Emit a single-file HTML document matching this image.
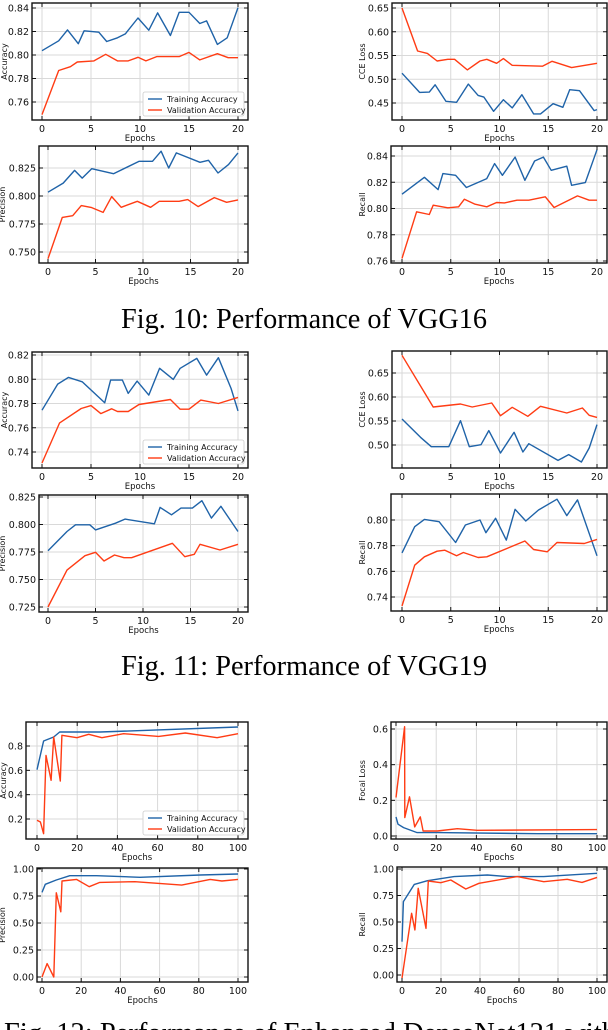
<!DOCTYPE html>
<html><head><meta charset="utf-8">
<style>
html,body{margin:0;padding:0;background:#fff;width:608px;height:1030px;overflow:hidden}
svg{display:block}
</style></head>
<body>
<svg id="fig" width="608" height="1030" viewBox="0 0 608 1030" xmlns="http://www.w3.org/2000/svg">
<text x="121" y="328" font-family="Liberation Serif, serif" font-size="28" textLength="366" lengthAdjust="spacingAndGlyphs">Fig. 10: Performance of VGG16</text>
<text x="121" y="675" font-family="Liberation Serif, serif" font-size="28" textLength="366" lengthAdjust="spacingAndGlyphs">Fig. 11: Performance of VGG19</text>
<text x="4" y="1042" font-family="Liberation Serif, serif" font-size="28" textLength="612" lengthAdjust="spacingAndGlyphs">Fig. 12: Performance of Enhanced DenseNet121 with</text>
</svg>
<script>
// ---- VGG16 ----
const v16AccTrX=[0,1.7,2.6,3.7,4.3,5.8,6.6,7.7,8.5,9.8,10.9,11.8,13.1,14.0,15.0,16.1,16.8,17.9,18.9,20];
const v16AccTrY=[0.8037,0.8121,0.8214,0.8096,0.8206,0.8194,0.8115,0.8146,0.818,0.8315,0.8211,0.8358,0.8166,0.8363,0.8363,0.8268,0.829,0.809,0.8146,0.8403];
const v16AccVaX=[0,1.7,2.9,3.6,5.3,6.5,7.7,8.8,9.8,10.6,11.7,14.0,15.0,16.1,17.9,19.0,20];
const v16AccVaY=[0.7493,0.7868,0.790,0.794,0.795,0.8006,0.795,0.795,0.798,0.795,0.7986,0.7986,0.8022,0.7958,0.8011,0.7977,0.7977];
const v16PrTrX=[0,1.6,2.8,3.6,4.6,6.9,9.6,11.0,11.9,12.7,13.5,16.0,16.9,17.9,19.0,20];
const v16PrTrY=[0.8034,0.8115,0.8229,0.816,0.8244,0.8199,0.831,0.831,0.84,0.825,0.8385,0.8301,0.8319,0.8205,0.828,0.8385];
const v16PrVaX=[0,1.5,2.6,3.5,4.6,5.8,6.7,7.7,9.4,10.8,11.7,13.8,14.7,15.8,17.5,18.8,20];
const v16PrVaY=[0.744,0.7809,0.7824,0.7914,0.7896,0.7854,0.7995,0.7899,0.7953,0.7899,0.7953,0.7953,0.7968,0.7905,0.7986,0.7944,0.7965];
const v16LoTrX=[0,1.8,2.8,3.4,4.5,5.6,6.8,7.8,8.4,9.4,10.4,11.3,12.3,13.5,14.2,15.5,16.5,17.2,18.2,19.7,20];
const v16LoTrY=[0.5127,0.4723,0.473,0.4883,0.4535,0.4514,0.4897,0.466,0.4625,0.4326,0.457,0.4396,0.4674,0.427,0.427,0.4486,0.4409,0.4779,0.4758,0.434,0.4361];
const v16LoVaX=[0,1.6,2.6,3.6,4.7,5.4,6.7,8.0,8.7,9.7,10.4,11.3,14.4,15.4,17.4,20];
const v16LoVaY=[0.65,0.5594,0.5545,0.5385,0.542,0.542,0.5197,0.5385,0.542,0.5336,0.5434,0.5294,0.5274,0.5378,0.5246,0.5336];
const v16ReTrX=[0,2.3,3.7,4.2,5.5,6.6,8.7,9.5,10.3,11.6,12.6,13.6,14.5,15.3,16.9,17.4,18.8,20];
const v16ReTrY=[0.8109,0.8238,0.8144,0.8266,0.8253,0.816,0.8228,0.8342,0.8253,0.8392,0.8215,0.8362,0.8392,0.8291,0.8322,0.8177,0.8197,0.8448];
const v16ReVaX=[0,1.5,2.8,3.2,4.7,5.8,6.4,7.5,8.7,9.7,10.5,11.8,13.0,14.7,15.6,18.0,19.2,20];
const v16ReVaY=[0.762,0.7975,0.7954,0.8025,0.8005,0.8013,0.8071,0.8033,0.8013,0.8046,0.8043,0.8063,0.8063,0.8089,0.8008,0.8096,0.8063,0.8063];
// ---- VGG19 ----
const v19AccTrX=[0,1.6,2.7,4.1,6.4,7.0,8.2,8.8,9.7,10.9,12.0,13.4,14.1,15.8,16.8,18.0,19.3,20];
const v19AccTrY=[0.7745,0.796,0.8015,0.7979,0.7806,0.7993,0.7993,0.7883,0.7985,0.7869,0.809,0.7999,0.809,0.8172,0.8034,0.8178,0.7924,0.7739];
const v19AccVaX=[0,1.8,4.0,5.0,6.0,7.1,7.7,8.8,9.9,13.1,14.1,15.0,16.2,18.0,20];
const v19AccVaY=[0.7309,0.764,0.7759,0.7783,0.7717,0.7756,0.7734,0.7734,0.7792,0.7833,0.7753,0.7753,0.7828,0.78,0.785];
const v19PrTrX=[0,2.0,2.9,4.4,5.0,7.1,8.1,11.2,11.8,13.0,14.0,15.2,16.2,17.2,18.2,20];
const v19PrTrY=[0.7762,0.7936,0.7997,0.7997,0.7951,0.8012,0.8049,0.8006,0.8155,0.8088,0.8149,0.8149,0.8216,0.8058,0.8165,0.7936];
const v19PrVaX=[0,2.0,3.9,5.0,5.9,7.0,8.0,8.8,13.1,14.4,15.4,16.0,18.1,20];
const v19PrVaY=[0.725,0.7585,0.7716,0.7747,0.7668,0.7723,0.7698,0.7698,0.7829,0.7707,0.7729,0.782,0.7768,0.782];
const v19LoTrX=[0,1.9,3.0,4.8,6.0,6.9,8.1,8.9,10.1,11.5,12.4,13.0,16.0,17.1,18.4,19.2,20];
const v19LoTrY=[0.5542,0.516,0.4965,0.4965,0.5507,0.4965,0.5007,0.5299,0.4833,0.5264,0.4854,0.5028,0.468,0.4799,0.4646,0.4938,0.5424];
const v19LoVaX=[0,3.2,6.0,7.2,9.2,10.1,11.3,12.9,14.2,16.9,18.5,19.2,20];
const v19LoVaY=[0.6868,0.5792,0.5854,0.5792,0.5875,0.5611,0.5785,0.5597,0.5806,0.5667,0.5771,0.5618,0.5576];
const v19ReTrX=[0,1.3,2.3,3.8,5.5,6.5,8.0,8.6,9.6,10.7,11.6,12.7,14.0,15.9,16.9,18.0,20];
const v19ReTrY=[0.7744,0.7948,0.8005,0.7987,0.7825,0.7961,0.80,0.7901,0.8013,0.7843,0.8083,0.7992,0.8078,0.8162,0.8034,0.8157,0.7721];
const v19ReVaX=[0,1.3,2.3,3.6,4.4,5.6,6.3,7.8,8.7,12.6,13.5,14.9,15.9,18.7,20];
const v19ReVaY=[0.733,0.7648,0.7713,0.7757,0.7765,0.7721,0.7747,0.7708,0.7713,0.7836,0.777,0.7752,0.7825,0.7817,0.7849];
// ---- DenseNet121 ----
const dnAccTrX=[0,3.3,8.3,11.3,31.5,100];
const dnAccTrY=[0.605,0.841,0.874,0.915,0.915,0.956];
const dnAccVaX=[0,1.7,3.3,4.5,7.0,8.3,11.6,12.4,19.9,25.7,32.3,43.1,60.5,73.8,89.6,100];
const dnAccVaY=[0.189,0.175,0.079,0.723,0.518,0.874,0.512,0.888,0.868,0.896,0.868,0.901,0.879,0.907,0.868,0.901];
const dnPrTrX=[0,1.7,7.3,14.2,27.8,50,80.7,100];
const dnPrTrY=[0.783,0.858,0.898,0.938,0.938,0.923,0.944,0.954];
const dnPrVaX=[0,2.6,6.0,7.3,9.6,10.2,17.6,24.1,29.5,47.4,71.3,85.8,91.8,100];
const dnPrVaY=[0,0.124,0,0.78,0.604,0.889,0.904,0.836,0.876,0.882,0.851,0.904,0.889,0.904];
const dnLoTrX=[0,1,3.8,10.5,20.5,70.4,100];
const dnLoTrY=[0.107,0.066,0.047,0.019,0.019,0.013,0.013];
const dnLoVaX=[0,4.3,4.4,6.7,9.3,12.1,13.5,20.5,30.5,40.4,100];
const dnLoVaY=[0.216,0.613,0.103,0.22,0.051,0.107,0.028,0.028,0.041,0.032,0.036];
const dnReTrX=[0,0.7,6.3,13.1,26.7,43.8,54.0,72.7,100];
const dnReTrY=[0.314,0.692,0.855,0.89,0.928,0.943,0.928,0.928,0.959];
const dnReVaX=[0,4.9,6.6,8.3,12.3,13.5,19.9,25.0,32.7,39.5,59.1,72.7,84.7,92.3,100];
const dnReVaY=[-0.03,0.582,0.425,0.818,0.44,0.887,0.871,0.896,0.811,0.865,0.928,0.88,0.903,0.874,0.921];
// tick labels
const xTicks20=[0,5,10,15,20];
const xTicks100=[0,20,40,60,80,100];
const yTicksV16Acc=[0.76,0.78,0.80,0.82,0.84];
const yTicksV16Pr=[0.750,0.775,0.800,0.825];
const yTicksV16Lo=[0.45,0.50,0.55,0.60,0.65];
const yTicksV16Re=[0.76,0.78,0.80,0.82,0.84];
const yTicksV19Acc=[0.74,0.76,0.78,0.80,0.82];
const yTicksV19Pr=[0.725,0.750,0.775,0.800,0.825];
const yTicksV19Lo=[0.50,0.55,0.60,0.65];
const yTicksV19Re=[0.74,0.76,0.78,0.80];
const yTicksDnAcc=[0.2,0.4,0.6,0.8];
const yTicksDnPr=[0.00,0.25,0.50,0.75,1.00];
const yTicksDnLo=[0.0,0.2,0.4,0.6];
const yTicksDnRe=[0.00,0.25,0.50,0.75,1.00];

const NS='http://www.w3.org/2000/svg';
const svg=document.getElementById('fig');
const BLUE='#1f63a8', RED='#ff3c14';
const TF=9.5;
function mk(tag,attrs,parent){const e=document.createElementNS(NS,tag);for(const k in attrs)e.setAttribute(k,attrs[k]);(parent||svg).appendChild(e);return e;}

function plot(c){
  const g=mk('g',{});
  
  
  const sx=v=>c.px0+(v-c.xv0)*(c.px1-c.px0)/(c.xv1-c.xv0);
  const sy=v=>c.py0+(v-c.yv0)*(c.py1-c.py0)/(c.yv1-c.yv0);
  c.xt.forEach(t=>{const l=mk('line',{x1:sx(t),x2:sx(t),y1:c.top,y2:c.bot,stroke:'#d9d9d9','stroke-width':1},g);
    });
  c.yt.forEach(t=>{const l=mk('line',{x1:c.left,x2:c.right,y1:sy(t),y2:sy(t),stroke:'#d9d9d9','stroke-width':1},g);
    });
  c.series.forEach(s=>{
    const pts=s.x.map((v,i)=>sx(v).toFixed(1)+','+sy(s.y[i]).toFixed(1)).join(' ');
    const p=mk('polyline',{points:pts,fill:'none',stroke:s.color,'stroke-width':1.4,'stroke-linejoin':'round'},g);
    
    
  });
  const fr=mk('rect',{x:c.left,y:c.top,width:c.right-c.left,height:c.bot-c.top,fill:'none',stroke:'#111','stroke-width':1.4},g);
  
  c.xt.forEach(t=>{const x=sx(t);
    mk('line',{x1:x,x2:x,y1:c.bot,y2:c.bot-4,stroke:'#111','stroke-width':1},g);
    mk('line',{x1:x,x2:x,y1:c.top,y2:c.top+4,stroke:'#111','stroke-width':1},g);
    const tx=mk('text',{x:x,y:c.bot+12,'text-anchor':'middle','font-size':TF,'font-family':'DejaVu Sans, sans-serif',fill:'#111'},g);
    tx.textContent=t;
    });
  c.yt.forEach(t=>{const y=sy(t);
    mk('line',{x1:c.left,x2:c.left+4,y1:y,y2:y,stroke:'#111','stroke-width':1},g);
    mk('line',{x1:c.right,x2:c.right-4,y1:y,y2:y,stroke:'#111','stroke-width':1},g);
    const tx=mk('text',{x:c.left-3,y:y+3.5,'text-anchor':'end','font-size':TF,'font-family':'DejaVu Sans, sans-serif',fill:'#111'},g);
    tx.textContent=t.toFixed(c.dec);
    });
  const xl=mk('text',{x:(c.left+c.right)/2,y:c.bot+21,'text-anchor':'middle','font-size':8.5,'font-family':'DejaVu Sans, sans-serif',fill:'#111'},g);
  xl.textContent='Epochs';
  
  const yl=mk('text',{x:0,y:0,'text-anchor':'middle','font-size':8,'font-family':'DejaVu Sans, sans-serif',fill:'#111',transform:`translate(${c.ylx},${(c.top+c.bot)/2}) rotate(-90)`},g);
  yl.textContent=c.ylabel;
  
  if(c.legend){
    const lx=c.right-105, ly=c.bot-28;
    const lg=mk('g',{},g);
    
    mk('rect',{x:lx,y:ly,width:101,height:24,fill:'#fff',stroke:'#ccc','stroke-width':0.8,rx:2},lg);
    [['Training Accuracy',BLUE],['Validation Accuracy',RED]].forEach((e,i)=>{
      const yy=ly+7+i*11;
      mk('line',{x1:lx+5,x2:lx+19,y1:yy,y2:yy,stroke:e[1],'stroke-width':1.4},lg);
      const t=mk('text',{x:lx+24,y:yy+3,'font-size':8,'font-family':'DejaVu Sans, sans-serif',fill:'#111'},lg);
      t.textContent=e[0];
      
    });
  }
}

function ser(x,y,color,name){return {x,y,color,name};}

plot({name:'vgg16-accuracy-chart',left:32,right:248,top:3,bot:120,px0:42,px1:238,xv0:0,xv1:20,py0:8,py1:102,yv0:0.84,yv1:0.76,xt:xTicks20,yt:yTicksV16Acc,dec:2,ylabel:'Accuracy',ylx:7,legend:true,
 series:[ser(v16AccTrX,v16AccTrY,BLUE,'training-accuracy-line'),ser(v16AccVaX,v16AccVaY,RED,'validation-accuracy-line')]});
plot({name:'vgg16-precision-chart',left:39,right:248,top:146,bot:263,px0:48,px1:238,xv0:0,xv1:20,py0:168,py1:252,yv0:0.825,yv1:0.750,xt:xTicks20,yt:yTicksV16Pr,dec:3,ylabel:'Precision',ylx:5,
 series:[ser(v16PrTrX,v16PrTrY,BLUE,'training-precision-line'),ser(v16PrVaX,v16PrVaY,RED,'validation-precision-line')]});
plot({name:'vgg16-loss-chart',left:392,right:607,top:3,bot:120,px0:402,px1:597,xv0:0,xv1:20,py0:8,py1:103,yv0:0.65,yv1:0.45,xt:xTicks20,yt:yTicksV16Lo,dec:2,ylabel:'CCE Loss',ylx:365,
 series:[ser(v16LoTrX,v16LoTrY,BLUE,'training-loss-line'),ser(v16LoVaX,v16LoVaY,RED,'validation-loss-line')]});
plot({name:'vgg16-recall-chart',left:391,right:607,top:146,bot:263,px0:402,px1:597,xv0:0,xv1:20,py0:156,py1:261,yv0:0.84,yv1:0.76,xt:xTicks20,yt:yTicksV16Re,dec:2,ylabel:'Recall',ylx:365,
 series:[ser(v16ReTrX,v16ReTrY,BLUE,'training-recall-line'),ser(v16ReVaX,v16ReVaY,RED,'validation-recall-line')]});
plot({name:'vgg19-accuracy-chart',left:32,right:248,top:352,bot:468,px0:42,px1:238,xv0:0,xv1:20,py0:355,py1:452,yv0:0.82,yv1:0.74,xt:xTicks20,yt:yTicksV19Acc,dec:2,ylabel:'Accuracy',ylx:7,legend:true,
 series:[ser(v19AccTrX,v19AccTrY,BLUE,'training-accuracy-line'),ser(v19AccVaX,v19AccVaY,RED,'validation-accuracy-line')]});
plot({name:'vgg19-precision-chart',left:39,right:248,top:495,bot:612,px0:48,px1:238,xv0:0,xv1:20,py0:497,py1:607,yv0:0.825,yv1:0.725,xt:xTicks20,yt:yTicksV19Pr,dec:3,ylabel:'Precision',ylx:5,
 series:[ser(v19PrTrX,v19PrTrY,BLUE,'training-precision-line'),ser(v19PrVaX,v19PrVaY,RED,'validation-precision-line')]});
plot({name:'vgg19-loss-chart',left:392,right:607,top:351,bot:468,px0:402,px1:597,xv0:0,xv1:20,py0:373,py1:445,yv0:0.65,yv1:0.50,xt:xTicks20,yt:yTicksV19Lo,dec:2,ylabel:'CCE Loss',ylx:365,
 series:[ser(v19LoTrX,v19LoTrY,BLUE,'training-loss-line'),ser(v19LoVaX,v19LoVaY,RED,'validation-loss-line')]});
plot({name:'vgg19-recall-chart',left:391,right:607,top:494,bot:611,px0:402,px1:597,xv0:0,xv1:20,py0:520,py1:597,yv0:0.80,yv1:0.74,xt:xTicks20,yt:yTicksV19Re,dec:2,ylabel:'Recall',ylx:365,
 series:[ser(v19ReTrX,v19ReTrY,BLUE,'training-recall-line'),ser(v19ReVaX,v19ReVaY,RED,'validation-recall-line')]});
plot({name:'densenet-accuracy-chart',left:26,right:248,top:722,bot:839,px0:37,px1:238,xv0:0,xv1:100,py0:746,py1:819,yv0:0.8,yv1:0.2,xt:xTicks100,yt:yTicksDnAcc,dec:1,ylabel:'Accuracy',ylx:6,legend:true,
 series:[ser(dnAccTrX,dnAccTrY,BLUE,'training-accuracy-line'),ser(dnAccVaX,dnAccVaY,RED,'validation-accuracy-line')]});
plot({name:'densenet-precision-chart',left:37,right:248,top:868,bot:982,px0:42,px1:238,xv0:0,xv1:100,py0:869,py1:977,yv0:1.0,yv1:0.0,xt:xTicks100,yt:yTicksDnPr,dec:2,ylabel:'Precision',ylx:5,
 series:[ser(dnPrTrX,dnPrTrY,BLUE,'training-precision-line'),ser(dnPrVaX,dnPrVaY,RED,'validation-precision-line')]});
plot({name:'densenet-loss-chart',left:391,right:607,top:722,bot:839,px0:396,px1:597,xv0:0,xv1:100,py0:729,py1:836,yv0:0.6,yv1:0.0,xt:xTicks100,yt:yTicksDnLo,dec:1,ylabel:'Focal Loss',ylx:365,
 series:[ser(dnLoTrX,dnLoTrY,BLUE,'training-loss-line'),ser(dnLoVaX,dnLoVaY,RED,'validation-loss-line')]});
plot({name:'densenet-recall-chart',left:397,right:607,top:867,bot:982,px0:402,px1:597,xv0:0,xv1:100,py0:869,py1:975,yv0:1.0,yv1:0.0,xt:xTicks100,yt:yTicksDnRe,dec:2,ylabel:'Recall',ylx:365,
 series:[ser(dnReTrX,dnReTrY,BLUE,'training-recall-line'),ser(dnReVaX,dnReVaY,RED,'validation-recall-line')]});
</script>
</body></html>
